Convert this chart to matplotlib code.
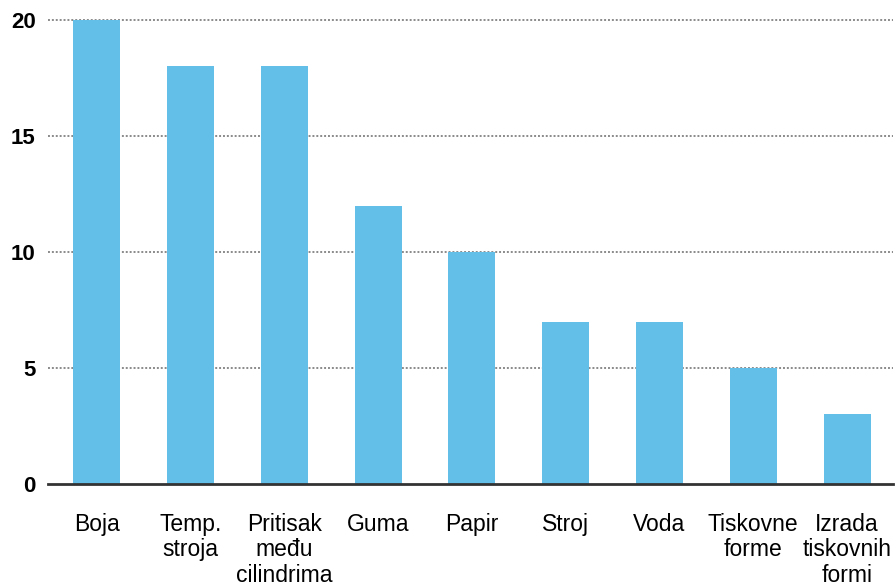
import matplotlib.pyplot as plt

categories = ["Boja", "Temp.\nstroja", "Pritisak\nmeđu\ncilindrima", "Guma", "Papir",
              "Stroj", "Voda", "Tiskovne\nforme", "Izrada\ntiskovnih\nformi"]
values = [20, 18, 18, 12, 10, 7, 7, 5, 3]
yticks = [0, 5, 10, 15, 20]

plt.rcParams['font.family'] = ['Liberation Sans', 'DejaVu Sans']

fig = plt.figure(figsize=(8.96, 5.85), dpi=100)
ax = fig.add_axes([0.0536, 0.1726, 0.9431, 0.7932])

x = range(len(categories))
ax.bar(x, values, width=0.5, color='#63BEE8', zorder=2)

ax.set_xlim(-0.52, len(categories) - 1 + 0.49)
ax.set_ylim(0, 20)
ax.set_yticks(yticks)
ax.set_yticklabels([str(v) for v in yticks], fontsize=16, fontweight='bold')
ax.set_xticks(list(x))
ax.set_xticklabels(categories, fontsize=16.5, linespacing=1.12)
ax.tick_params(axis='both', length=0)
ax.tick_params(axis='y', pad=9)
ax.tick_params(axis='x', pad=21)

for v in yticks[1:]:
    ax.axhline(v, color='#8a8a8a', lw=1.4, ls=(0, (1, 1)), zorder=1, clip_on=False)
ax.axhline(0, color='#333333', lw=2, zorder=3, clip_on=False)

for s in ax.spines.values():
    s.set_visible(False)

fig.savefig("out.png", dpi=100)
